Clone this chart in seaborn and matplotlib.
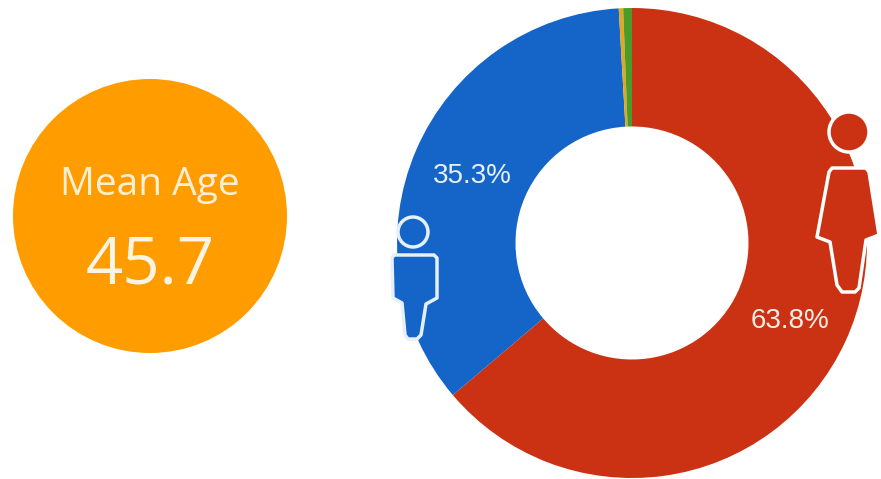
import seaborn as sns
import matplotlib.pyplot as plt
from matplotlib.patches import Polygon, Circle

sns.set_theme(style="white")

shares = [63.8, 35.3, 0.3, 0.6]
slice_colors = ["#CB3213", "#1565C8", "#E0A81E", "#4C9A2A"]
mean_age_title = "Mean Age"
mean_age = "45.7"
women_label = "63.8%"
men_label = "35.3%"

RED = slice_colors[0]
BLUE = slice_colors[1]
H = 479


def flip(points):
    return [(x, H - y) for x, y in points]


fig = plt.figure(figsize=(8.81, 4.79), dpi=100)
ax = fig.add_axes([0, 0, 1, 1])

# donut
ax.pie(shares, colors=slice_colors, startangle=90, counterclock=False,
       center=(632, H - 243), radius=235, frame=True,
       wedgeprops=dict(width=118.5, linewidth=0))

ax.set_xlim(0, 881)
ax.set_ylim(0, H)
ax.set_aspect("auto")
ax.axis("off")

# mean age badge
ax.add_patch(Circle((150, H - 216), 137, color="#FF9C00", lw=0))
ax.text(150, H - 195, mean_age_title, color="#FCEFD6", fontsize=28,
        family="Open Sans", ha="center", va="baseline")
ax.text(150, H - 284, mean_age, color="#FDF3E2", fontsize=47,
        family="Open Sans", ha="center", va="baseline")

ax.text(472, H - 183, men_label, color="#E6F0FB", fontsize=20,
        family="Liberation Sans", ha="center", va="baseline")
ax.text(790, H - 328, women_label, color="#FBEDE8", fontsize=20,
        family="Liberation Sans", ha="center", va="baseline")

# woman
ax.add_patch(Circle((849, H - 132), 20, fc=RED, ec="white", lw=2.5))
woman = [(832, 168), (866, 168), (869, 172), (879, 235), (866, 240), (859, 288),
         (855, 292), (842, 292), (837, 285), (830, 242), (817, 237), (829, 172)]
ax.add_patch(Polygon(flip(woman), closed=True, fc=RED, ec="white", lw=2.5, joinstyle="round"))

# man
ax.add_patch(Circle((413, H - 232), 15, fc=BLUE, ec="#E6F0FB", lw=2.5))
man = [(394, 255), (434, 255), (437, 258), (437, 298), (426, 304), (421, 335),
       (417, 339), (408, 339), (405, 335), (402, 303), (393, 298), (392, 258)]
ax.add_patch(Polygon(flip(man), closed=True, fc=BLUE, ec="#E6F0FB", lw=2.5, joinstyle="round"))

fig.savefig("out.png", dpi=100)
